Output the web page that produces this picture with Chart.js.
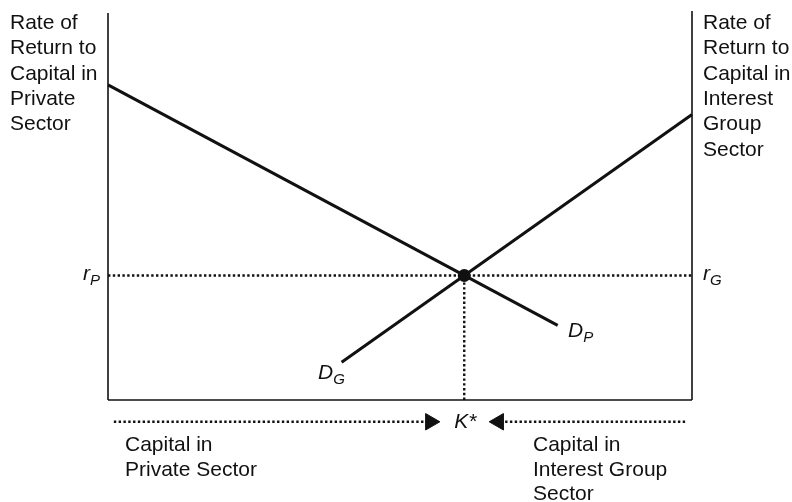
<!DOCTYPE html>
<html>
<head>
<meta charset="utf-8">
<script src="https://cdn.jsdelivr.net/npm/chart.js@4/dist/chart.umd.min.js"></script>
<style>
  html, body { margin: 0; padding: 0; background: #fff; }
  canvas { display: block; }
</style>
</head>
<body>
<canvas id="chart" width="792" height="502"></canvas>
<script>
// capital axis runs 0..100 (private sector from the left, interest group from the right)
const capitalRange = [0, 100]
const rateRange = [0, 100]
// scale floor sits below zero so the allocation arrows fit inside the plot area
const scaleFloor = -25

// demand for capital in the private sector (D_P)
const privateX = [0, 77]
const privateY = [81, 19.2]

// demand for capital in the interest group sector (D_G)
const groupX = [40, 100]
const groupY = [9.7, 73.4]

// equilibrium
const kStar = 61
const rStar = 32

// allocation arrows under the axis
const arrowLevel = -5.6
const leftArrowX = [1, 54.5]
const rightArrowX = [68, 99.1]
const leftHeadX = 55.2
const rightHeadX = 66.9

const INK = "#111"
const FONT = "'Liberation Sans', Arial, Helvetica, sans-serif"
const DOTS = [2.4, 2.4]

const pts = (xs, ys) => xs.map((x, i) => ({ x, y: ys[i] }))

function lineSet(data, width, dash) {
  return {
    data,
    borderColor: INK,
    borderWidth: width,
    borderDash: dash || [],
    pointRadius: 0,
    fill: false,
    clip: false,
    tension: 0
  }
}

function headSet(x, rotation) {
  return {
    data: [{ x, y: arrowLevel }],
    showLine: false,
    pointStyle: "triangle",
    pointRadius: 9.5,
    pointRotation: rotation,
    pointBackgroundColor: INK,
    pointBorderColor: INK,
    pointBorderWidth: 1,
    clip: false
  }
}

const labelsPlugin = {
  id: "labels",
  afterDraw(chart) {
    const { ctx, scales } = chart
    const xs = scales.x, ys = scales.y
    const left = xs.getPixelForValue(capitalRange[0])
    const right = xs.getPixelForValue(capitalRange[1])
    const rY = ys.getPixelForValue(rStar)
    ctx.save()
    ctx.fillStyle = INK
    ctx.textBaseline = "alphabetic"
    ctx.textAlign = "left"
    ctx.font = "21px " + FONT

    const lh = 25.3
    const leftLines = ["Rate of", "Return to", "Capital in", "Private", "Sector"]
    leftLines.forEach((t, i) => ctx.fillText(t, 10, 29 + i * lh))
    const rightLines = ["Rate of", "Return to", "Capital in", "Interest", "Group", "Sector"]
    rightLines.forEach((t, i) => ctx.fillText(t, right + 11, 29 + i * lh))

    const bl = ["Capital in", "Private Sector"]
    bl.forEach((t, i) => ctx.fillText(t, left + 17, 451 + i * 24.6))
    const br = ["Capital in", "Interest Group", "Sector"]
    br.forEach((t, i) => ctx.fillText(t, 533, 451 + i * 24.6))

    // italic symbols with subscripts
    const sym = (main, sub, x, y) => {
      ctx.font = "italic 21px " + FONT
      ctx.fillText(main, x, y)
      const w = ctx.measureText(main).width
      ctx.font = "italic 15px " + FONT
      ctx.fillText(sub, x + w, y + 5)
    }
    sym("r", "P", left - 25, rY + 4)
    sym("r", "G", right + 11, rY + 4)
    sym("D", "P", 568, 337)
    sym("D", "G", 318, 379)

    ctx.font = "italic 21px " + FONT
    ctx.textAlign = "center"
    ctx.fillText("K*", xs.getPixelForValue(kStar) + 1, 428)
    ctx.restore()
  }
}

new Chart(document.getElementById("chart"), {
  type: "line",
  data: {
    datasets: [
      // axes
      lineSet(pts([0, 0], [0, 99.5]), 1.6),
      lineSet(pts([100, 100], rateRange), 1.6),
      lineSet(pts(capitalRange, [0, 0]), 1.6),
      // equilibrium guides
      lineSet(pts(capitalRange, [rStar, rStar]), 2.4, DOTS),
      lineSet(pts([kStar, kStar], [0, rStar]), 2.4, DOTS),
      // demand curves
      lineSet(pts(privateX, privateY), 3),
      lineSet(pts(groupX, groupY), 3),
      // equilibrium point
      {
        data: [{ x: kStar, y: rStar }],
        showLine: false,
        pointRadius: 6.5,
        pointBackgroundColor: INK,
        pointBorderWidth: 0,
        clip: false
      },
      // arrows
      lineSet(pts(leftArrowX, [arrowLevel, arrowLevel]), 2.4, DOTS),
      lineSet(pts(rightArrowX, [arrowLevel, arrowLevel]), 2.4, DOTS),
      headSet(leftHeadX, 90),
      headSet(rightHeadX, 270)
    ]
  },
  options: {
    responsive: false,
    animation: false,
    devicePixelRatio: 1,
    layout: { autoPadding: false, padding: { left: 108, right: 100, top: 11, bottom: 4.75 } },
    plugins: { legend: { display: false }, tooltip: { enabled: false } },
    scales: {
      x: { type: "linear", min: capitalRange[0], max: capitalRange[1], display: false },
      y: { type: "linear", min: scaleFloor, max: rateRange[1], display: false }
    }
  },
  plugins: [labelsPlugin]
})
</script>
</body>
</html>
